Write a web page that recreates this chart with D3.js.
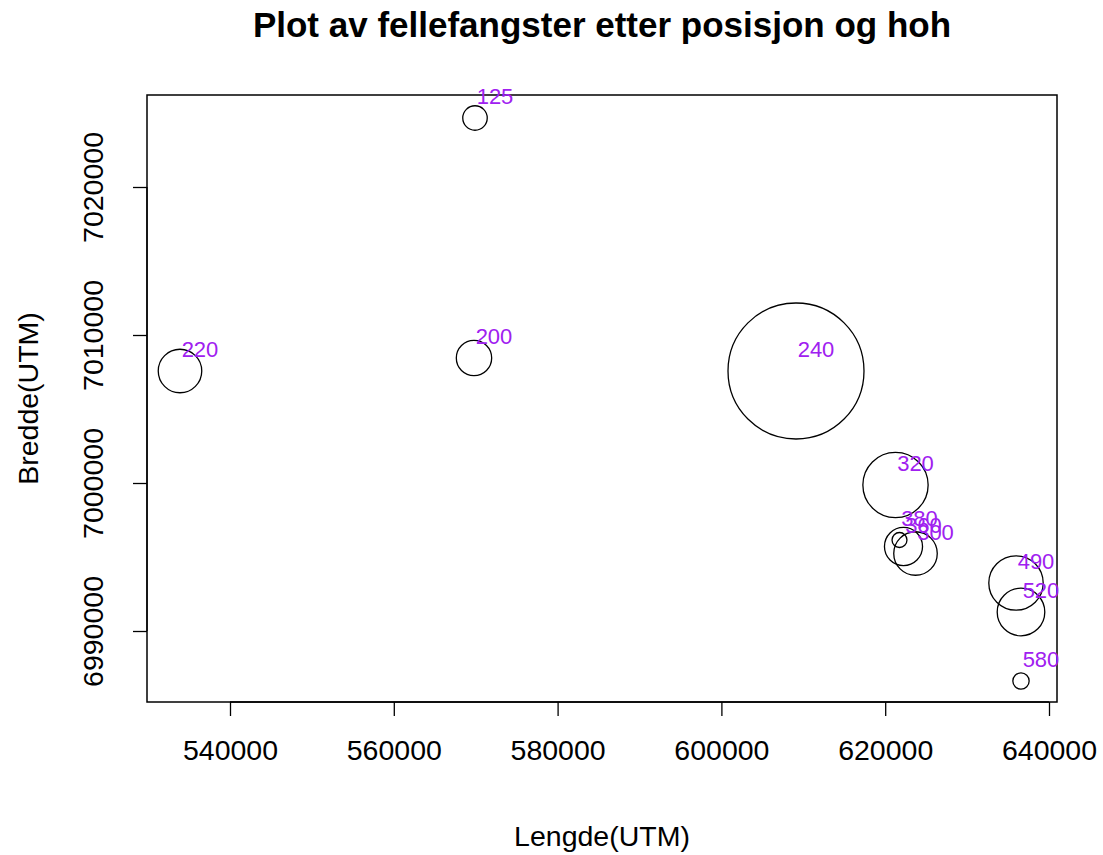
<!DOCTYPE html>
<meta charset="utf-8">
<style>
  body { margin: 0; background: #fff; }
  text { font-family: "Liberation Sans", Arial, sans-serif; }
</style>
<body>
<script src="https://cdn.jsdelivr.net/npm/d3@7"></script>
<script>
  // trap positions (UTM), height above sea level and catch size
  var lengde = [569915, 569792, 533895, 609109, 621258, 621746, 622234, 623700, 635971, 636581, 636581];
  var bredde = [7024662, 7008446, 7007568, 7007568, 6999865, 6996149, 6995709, 6995236, 6993243, 6991284, 6986622];
  var hoh    = [125, 200, 220, 240, 320, 380, 360, 300, 490, 520, 580];
  var fangst = [18, 26, 32, 100, 48, 11, 28, 32, 40, 35, 12];

  var xTicks = [540000, 560000, 580000, 600000, 620000, 640000];
  var yTicks = [6990000, 7000000, 7010000, 7020000];

  var W = 1103, H = 855;
  var margin = { top: 95, right: 46, bottom: 153, left: 147 },
    width = W - margin.left - margin.right,
    height = H - margin.top - margin.bottom;

  var x = d3.scaleLinear().domain([529866, 640977]).range([0, width]);
  var y = d3.scaleLinear().domain([6985203, 7026216]).range([height, 0]);
  var r = d3.scaleLinear().domain([0, 100]).range([0, 68]);

  var svg = d3.select("body").append("svg")
    .attr("width", W)
    .attr("height", H);

  var g = svg.append("g")
    .attr("transform", "translate(" + margin.left + "," + margin.top + ")");

  // plot box
  g.append("rect")
    .attr("width", width)
    .attr("height", height)
    .attr("fill", "none")
    .attr("stroke", "#000")
    .attr("stroke-width", 1.5);

  // x axis
  var gx = g.append("g")
    .attr("transform", "translate(0," + height + ")")
    .call(d3.axisBottom(x).tickValues(xTicks).tickSize(14).tickPadding(24).tickFormat(d3.format("d")));
  gx.select(".domain").attr("d", "M" + x(xTicks[0]) + ",0H" + x(xTicks[xTicks.length - 1]));

  // y axis
  var gy = g.append("g")
    .call(d3.axisLeft(y).tickValues(yTicks).tickSize(14).tickFormat(d3.format("d")));
  gy.select(".domain").attr("d", "M0," + y(yTicks[0]) + "V" + y(yTicks[yTicks.length - 1]));
  gy.selectAll(".tick text")
    .attr("transform", "rotate(-90)")
    .attr("x", 0)
    .attr("y", -44)
    .attr("dy", 0)
    .style("text-anchor", "middle");

  svg.selectAll(".domain, .tick line").attr("stroke", "#000").attr("stroke-width", 1.3);
  svg.selectAll(".tick text").attr("font-size", 28.5).attr("fill", "#000")
    .attr("font-family", "Liberation Sans, Arial, sans-serif");

  // circles
  var data = lengde.map(function (d, i) {
    return { x: d, y: bredde[i], hoh: hoh[i], n: fangst[i] };
  });

  g.selectAll(".pt")
    .data(data)
    .enter().append("circle")
    .attr("class", "pt")
    .attr("cx", function (d) { return x(d.x); })
    .attr("cy", function (d) { return y(d.y); })
    .attr("r", function (d) { return r(d.n); })
    .attr("fill", "none")
    .attr("stroke", "#000")
    .attr("stroke-width", 1.3);

  g.selectAll(".lab")
    .data(data)
    .enter().append("text")
    .attr("class", "lab")
    .attr("x", function (d) { return x(d.x) + 20; })
    .attr("y", function (d) { return y(d.y) - 14; })
    .attr("text-anchor", "middle")
    .attr("font-size", 22)
    .attr("fill", "#A020F0")
    .text(function (d) { return d.hoh; });

  // titles
  svg.append("text")
    .attr("x", margin.left + width / 2)
    .attr("y", 37)
    .attr("text-anchor", "middle")
    .attr("font-size", 35)
    .attr("font-weight", "bold")
    .text("Plot av fellefangster etter posisjon og hoh");

  svg.append("text")
    .attr("x", margin.left + width / 2)
    .attr("y", 846)
    .attr("text-anchor", "middle")
    .attr("font-size", 28.5)
    .text("Lengde(UTM)");

  svg.append("text")
    .attr("transform", "translate(38," + (margin.top + height / 2) + ") rotate(-90)")
    .attr("text-anchor", "middle")
    .attr("font-size", 28.5)
    .text("Bredde(UTM)");
</script>
</body>
